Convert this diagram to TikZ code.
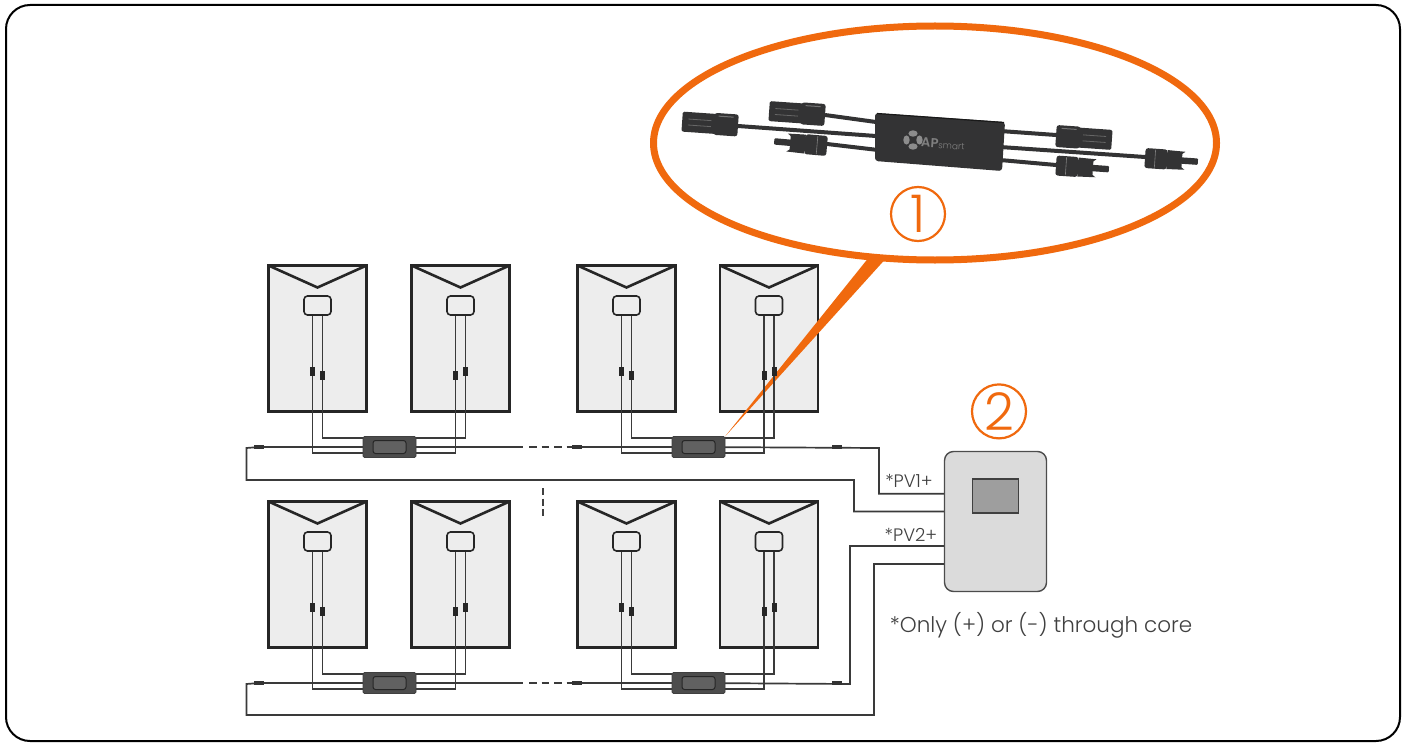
\documentclass[tikz,border=0pt]{standalone}
\usepackage{fontspec}
\setmainfont{Poppins}[UprightFont=* Light]
\usetikzlibrary{positioning,shapes.geometric,backgrounds}
\definecolor{myorange}{HTML}{F0690E}
\definecolor{mywire}{HTML}{3A3A3A}
\definecolor{myprod}{HTML}{333334}
\tikzset{
  panel/.style={draw=black!85,fill=black!7,line width=2.8pt,minimum width=98pt,minimum height=146pt,inner sep=0pt,outer sep=0pt},
  jbox/.style={draw=black!85,fill=black!7,line width=1.6pt,rounded corners=3.5pt,minimum width=27pt,minimum height=19pt,inner sep=0pt,outer sep=0pt},
  optim/.style={draw=black!75,fill=black!70,line width=0.8pt,rounded corners=1.5pt,minimum width=53pt,minimum height=21pt,inner sep=0pt,outer sep=0pt},
  optcore/.style={draw=black!85,fill=black!62,line width=1pt,rounded corners=2.5pt,minimum width=33pt,minimum height=13pt,inner sep=0pt},
  legplug/.style={fill=black!85,minimum width=5pt,minimum height=9pt,inner sep=0pt},
  lineplug/.style={fill=black!80,minimum width=9.5pt,minimum height=4.8pt,inner sep=0pt},
  wire/.style={draw=mywire,line width=1.7pt},
  badge/.style={circle,draw=myorange,line width=2.2pt,minimum size=54pt,inner sep=0pt,text=myorange,font=\fontsize{52}{52}\selectfont},
  pvlabel/.style={text=black!75,inner sep=0pt,font=\fontsize{18}{20}\selectfont},
  cable/.style={draw=myprod,line width=4pt}
}
\def\femaleplug#1#2#3{\begin{scope}[shift={#1},rotate=#2,xscale=#3]
    \fill[myprod,rounded corners=2.5pt] (0,-11) rectangle (-24,11);
    \fill[myprod,rounded corners=1.5pt] (-22,-10) rectangle (-56,10);
    \draw[black!60,line width=0.8pt] (-27,-3) -- (-50,-3) (-27,3) -- (-50,3);
    \draw[black!55,line width=1pt] (-5,-8) -- (-20,-8);
  \end{scope}}
\def\maleplug#1#2#3{\begin{scope}[shift={#1},rotate=#2,xscale=#3]
    \fill[myprod,rounded corners=2.5pt] (0,-10) rectangle (-22,10);
    \fill[myprod] (-20,-7) rectangle (-37,7);
    \fill[myprod,rounded corners=1pt] (-36,-3.2) rectangle (-53,3.2);
    \fill[myprod] (-22,-9.5) -- (-40,-9) -- (-36,-6) -- (-22,-6) -- cycle;
    \fill[myprod] (-22,9.5) -- (-40,9) -- (-36,6) -- (-22,6) -- cycle;
    \draw[black!50,line width=0.6pt] (-10,-9) -- (-10,9);
  \end{scope}}
\begin{document}
\begin{tikzpicture}[x=1pt,y=-1pt]
          \useasboundingbox (0,0) rectangle (1405,749);
          \begin{scope}[on background layer]
            \fill[white] (0,0) rectangle (1405,749);
            \node[panel] (m11) at (317.5,338.5) {};
            \node[panel, right=45pt of m11] (m12) {};
            \node[panel, right=68pt of m12] (m13) {};
            \node[panel, right=44.5pt of m13] (m14) {};
            \node[panel, below=90pt of m11] (m21) {};
            \node[panel, below=90pt of m12] (m22) {};
            \node[panel, below=90pt of m13] (m23) {};
            \node[panel, below=90pt of m14] (m24) {};
            \foreach \m in {m11,m12,m13,m14,m21,m22,m23,m24} {
              \draw[draw=black!85,line width=2.6pt] (\m.north west) -- ([yshift=-22pt]\m.north) -- (\m.north east);
            }
          \end{scope}

          \draw[black,line width=2pt,rounded corners=24pt] (6,5) rectangle (1400,741);

          \foreach \m in {11,12,13,14,21,22,23,24} {
            \node[jbox, below=30.5pt of m\m.north] (j\m) {};
          }
          \foreach \r in {1,2} {
            \node[optim, below=25pt of m\r1.south east, xshift=23pt] (o\r1) {};
            \node[optim, below=25pt of m\r3.south east, xshift=23pt] (o\r2) {};
            \node[optcore] (k\r1) at (o\r1) {};
            \node[optcore] (k\r2) at (o\r2) {};
            \node[lineplug, left=99pt of o\r1] (c\r0) {};
            \node[lineplug, left=90pt of o\r2] (c\r1) {};
            \node[lineplug, right=107pt of o\r2] (c\r2) {};
            \foreach \m/\la/\lb in {\r1/56/60,\r2/60/56,\r3/56/60,\r4/60/56} {
              \node[legplug] (pl\m) at ([xshift=-5pt,yshift=-\la pt]j\m.south) {};
              \node[legplug] (pr\m) at ([xshift=5pt,yshift=-\lb pt]j\m.south) {};
            }
          }

          \node[draw=black!70,fill=black!14,line width=1.4pt,rounded corners=9pt,minimum width=102pt,minimum height=140pt,inner sep=0pt,outer sep=0pt] (inv) at (995.5,521.5) {};
          \node[draw=black!75,fill=black!38,line width=1.4pt,minimum width=46pt,minimum height=34pt,inner sep=0pt,above=-62pt of inv] (screen) {};
          \node[badge, above=12pt of inv, xshift=3.5pt] (two) {2};
          \node[pvlabel] (pv1) at (909,481) {*PV1+};
          \node[pvlabel] (pv2) at (911,535) {*PV2+};
          \node[text=black!75,inner sep=0pt,font=\fontsize{21.5}{24}\selectfont] (note) at (1041,625) {*Only (+) or (-) through core};

          \coordinate (in1) at (945,493.7);
          \coordinate (in2) at (945,511.5);
          \coordinate (in3) at (945,546);
          \coordinate (in4) at (945,564);
          \coordinate (ra) at (879,448);
          \coordinate (rb) at (850,684);
          \coordinate (la) at (246.5,448);
          \coordinate (lb) at (246.5,684);
          \coordinate (ba) at (854,480);
          \coordinate (bb) at (874,715);

          \node[draw=myorange,line width=7pt,ellipse,minimum width=563pt,minimum height=234pt,inner sep=0pt,outer sep=0pt] (callout) at (935,143) {};
          \node[badge] (one) at (918,214) {1};

          \begin{scope}[on background layer]
            \fill[myorange] (callout.-120) -- (callout.-113) -- (o12.north east) -- cycle;
            \foreach \r in {1,2} {
              \foreach \m/\o in {\r1/o\r1,\r3/o\r2} {
                \draw[wire] ([xshift=-5pt]j\m.south) |- ([yshift=-6pt]\o.west);
                \draw[wire] ([xshift=5pt]j\m.south) |- ([yshift=9pt]\o.west);
              }
              \foreach \m/\o in {\r2/o\r1,\r4/o\r2} {
                \draw[wire] ([xshift=-5pt]j\m.south) |- ([yshift=-6pt]\o.east);
                \draw[wire] ([xshift=5pt]j\m.south) |- ([yshift=9pt]\o.east);
              }
              \draw[wire] (c\r0) -- (o\r1);
              \draw[wire] (c\r1) -- (o\r2);
              \draw[wire] (o\r1) -- ([xshift=107pt]o\r1.east);
              \draw[wire,dash pattern=on 7.5pt off 5pt] ([xshift=113pt]o\r1.east) -- (c\r1);
            }
            \draw[wire] (c10) -- (la) |- (ba) |- (in2);
            \draw[wire] (c20) -- (lb) |- (bb) |- (in4);
            \draw[wire] (o12) -- (ra) |- (in1);
            \draw[wire] (o22) -- (rb) |- (in3);
          \end{scope}
          \draw[draw=black!75,line width=2pt,dash pattern=on 7pt off 3.5pt] (543,488) -- (543,516);

          \femaleplug{(738,125.5)}{-4}{1}
          \femaleplug{(825,115)}{-4}{1}
          \maleplug{(827,146)}{-5}{1}
          \femaleplug{(1056,136)}{-4}{-1}
          \maleplug{(1145,158)}{-4}{-1}
          \maleplug{(1056,165.5)}{-4}{-1}
          \draw[cable] (738,126) -- (876,136);
          \draw[cable] (825,115) -- (876,122);
          \draw[cable] (827,144) -- (878,150);
          \draw[cable] (1000,131) -- (1056,135);
          \draw[cable] (1000,147) -- (1145,157);
          \draw[cable] (1000,160) -- (1056,165);
          \fill[myprod,rounded corners=3pt] (875,113) -- (1005,122) -- (1002,171) -- (875,161) -- cycle;
          \draw[black!90,line width=1.2pt] (877,113.5) -- (1004,122.5);
          \foreach \a in {0,90,180,270} {
            \fill[black!45,rotate around={\a:(913,140)}] (919.5,140) ellipse (3.2pt and 4.6pt);
          }
          \node[rotate=-4,text=black!50,inner sep=0pt,font=\fontsize{13}{14}\selectfont] (brand) at (943,144) {\textbf{AP}{\fontsize{9}{10}\selectfont smart}};
        \end{tikzpicture}
\end{document}
